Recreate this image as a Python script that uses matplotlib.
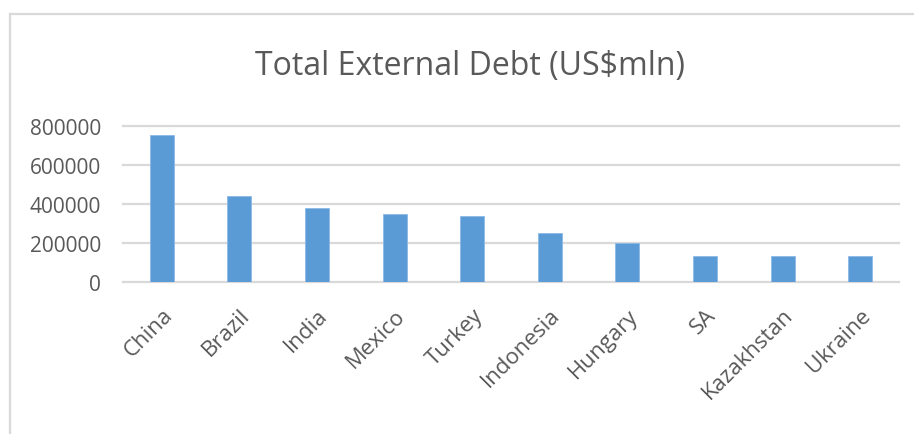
import matplotlib.pyplot as plt
from matplotlib.lines import Line2D
import numpy as np

countries = ["China", "Brazil", "India", "Mexico", "Turkey",
             "Indonesia", "Hungary", "SA", "Kazakhstan", "Ukraine"]
debt = [755000, 440000, 380000, 350000, 337000,
        253000, 201000, 135000, 135000, 135000]
yticks = [0, 200000, 400000, 600000, 800000]

bar_color = "#5B9BD5"
grid_color = "#D9D9D9"
text_color = "#595959"

plt.rcParams['font.family'] = ['Open Sans', 'DejaVu Sans']

fig = plt.figure(figsize=(9.14, 4.35), dpi=100)
ax = fig.add_axes([123 / 914, 1 - 283 / 435, 776 / 914, 156 / 435])

x = np.arange(len(countries))
ax.bar(x, debt, width=0.31, color=bar_color, edgecolor="#8DB9E8",
       linewidth=0.6, zorder=3)

ax.set_xlim(-0.5, len(countries) - 0.5)
ax.set_ylim(0, 800000)
ax.set_yticks(yticks)
ax.set_yticklabels([str(v) for v in yticks], fontsize=15, color=text_color)
ax.set_xticks(x)
ax.set_xticklabels(countries, rotation=45, ha="right", rotation_mode="anchor",
                   fontsize=16, color=text_color)
ax.tick_params(axis="both", length=0)
ax.tick_params(axis="x", pad=16)
ax.tick_params(axis="y", pad=16)

# horizontal gridlines, including the baseline
for v in yticks:
    ax.axhline(v, color=grid_color, linewidth=1.6, zorder=1, clip_on=False)
for s in ax.spines.values():
    s.set_visible(False)

fig.text(470 / 914, 1 - 67 / 435, "Total External Debt (US$mln)",
         ha="center", va="center", fontsize=23, color=text_color)

# chart frame
fig.add_artist(Line2D([10 / 914, 10 / 914], [0, 1 - 15 / 435],
                      color=grid_color, linewidth=1.6, transform=fig.transFigure))
fig.add_artist(Line2D([10 / 914, 1], [1 - 15 / 435, 1 - 15 / 435],
                      color=grid_color, linewidth=1.6, transform=fig.transFigure))

fig.savefig("out.png", dpi=100)
